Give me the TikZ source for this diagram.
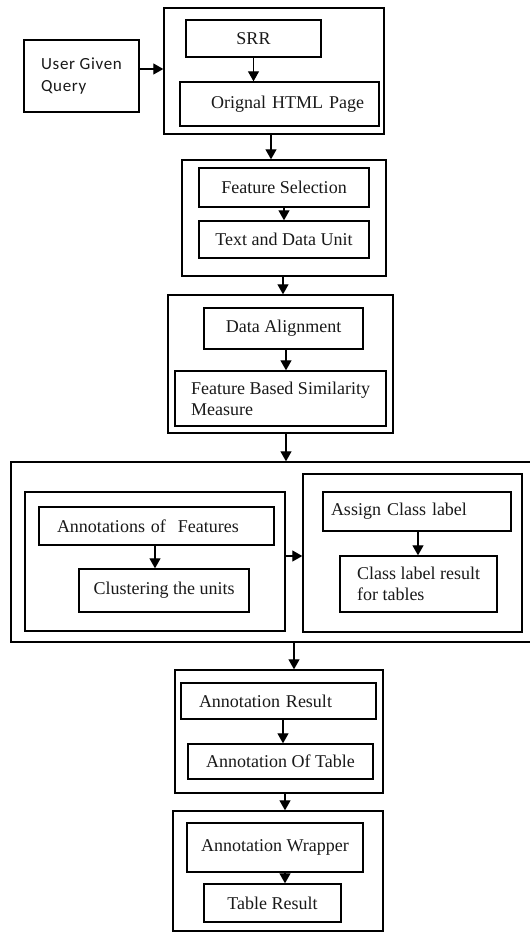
\documentclass[tikz,border=0pt]{standalone}
\usepackage{fontspec}
\setmainfont{Liberation Serif}
\newfontfamily\qfont[LetterSpace=4]{Carlito}
\usetikzlibrary{arrows.meta}
\newcommand{\serifsz}{\fontsize{18}{21}\selectfont}
\newcommand{\querysz}{\qfont\fontsize{17}{22}\selectfont}
\tikzset{
  box/.style={draw=black, line width=1.4pt, inner sep=0pt, font=\serifsz, text=black!90},
  frame/.style={draw=black, line width=1.4pt, inner sep=0pt},
  arr/.style={draw=black, line width=1.3pt, -{Triangle[length=10pt,width=11pt]}}
}
\begin{document}
\begin{tikzpicture}[x=1pt,y=-1pt]
\useasboundingbox (0,0) rectangle (530,932);
\fill[white] (0,0) rectangle (530,932);

% top group
\node[box, font=\querysz, align=left, minimum width=115pt, minimum height=72pt] (query) at (81.5,76) {User Given\\Query};
\node[frame, minimum width=220pt, minimum height=126pt] (outer1) at (274,71) {};
\node[box, minimum width=135pt, minimum height=37pt] (srr) at (253.5,38.5) {SRR};
\node[box, minimum width=199pt, minimum height=44pt, inner xsep=15pt, text width=169pt, align=right] (orig) at (279.5,104) {Orignal HTML Page};

% second group
\node[frame, minimum width=204pt, minimum height=116pt] (outer2) at (284,218) {};
\node[box, minimum width=170pt, minimum height=39pt] (featsel) at (284,187.5) {Feature Selection};
\node[box, minimum width=170pt, minimum height=37pt] (textdata) at (284,239.5) {Text and Data Unit};

% third group
\node[frame, minimum width=225pt, minimum height=138pt] (outer3) at (280.5,364) {};
\node[box, minimum width=159pt, minimum height=41pt] (dataalign) at (283.5,328.5) {Data Alignment};
\node[box, align=left, minimum width=211pt, minimum height=55pt] (fbsm) at (280.5,398.5) {Feature Based Similarity\\Measure};

% fourth group
\node[frame, minimum width=521pt, minimum height=180pt] (outer4) at (271.5,552) {};
\node[frame, minimum width=260pt, minimum height=139pt] (leftin) at (155,561.5) {};
\node[box, minimum width=235pt, minimum height=38pt, inner xsep=18pt, text width=199pt, align=left] (annot) at (156.5,526) {Annotations of\ \ Features};
\node[box, minimum width=170pt, minimum height=43pt] (cluster) at (164,590.5) {Clustering the units};
\node[frame, minimum width=219pt, minimum height=158pt] (rightin) at (412.5,553) {};
\node[box, minimum width=188pt, minimum height=39pt, inner xsep=8pt, text width=172pt, align=left] (assign) at (417,511.5) {Assign Class label};
\node[box, align=left, minimum width=157pt, minimum height=56pt] (classres) at (418.5,584) {Class label result\\for tables};

% fifth group
\node[frame, minimum width=208pt, minimum height=123pt] (outer5) at (279,731.5) {};
\node[box, minimum width=195pt, minimum height=36pt, inner xsep=18pt, text width=159pt, align=left] (annres) at (278.5,701) {Annotation Result};
\node[box, minimum width=185pt, minimum height=35pt] (anntable) at (280.5,761.5) {Annotation Of Table};

% sixth group
\node[frame, minimum width=210pt, minimum height=120pt] (outer6) at (278,871) {};
\node[box, minimum width=176pt, minimum height=49pt] (annwrap) at (275,847.5) {Annotation Wrapper};
\node[box, minimum width=137pt, minimum height=38pt] (tableres) at (272.5,903) {Table Result};

% connectors
\draw[arr] ([yshift=7pt]query.east) -- ([yshift=7pt]query.east -| outer1.west);
\draw[arr] (srr.south) -- (srr.south |- orig.north);
\draw[arr] ([xshift=-3pt]outer1.south) -- ([xshift=-3pt]outer1.south |- outer2.north);
\draw[arr] (featsel.south) -- (textdata.north);
\draw[arr] ([xshift=-1pt]outer2.south) -- ([xshift=-1pt]outer2.south |- outer3.north);
\draw[arr] ([xshift=2.5pt]dataalign.south) -- ([xshift=2.5pt]dataalign.south |- fbsm.north);
\draw[arr] ([xshift=5.5pt]outer3.south) -- ([xshift=5.5pt]outer3.south |- outer4.north);
\draw[arr] ([xshift=-1.5pt]annot.south) -- ([xshift=-1.5pt]annot.south |- cluster.north);
\draw[arr] ([yshift=5.5pt]leftin.east) -- ([yshift=5.5pt]leftin.east -| rightin.west);
\draw[arr] ([xshift=1pt]assign.south) -- ([xshift=1pt]assign.south |- classres.north);
\draw[arr] ([xshift=22.5pt]outer4.south) -- ([xshift=22.5pt]outer4.south |- outer5.north);
\draw[arr] ([xshift=4.5pt]annres.south) -- ([xshift=4.5pt]annres.south |- anntable.north);
\draw[arr] ([xshift=6pt]outer5.south) -- ([xshift=6pt]outer5.south |- outer6.north);
\draw[arr] ([xshift=10pt]annwrap.south) -- ([xshift=10pt]annwrap.south |- tableres.north);
\end{tikzpicture}
\end{document}
